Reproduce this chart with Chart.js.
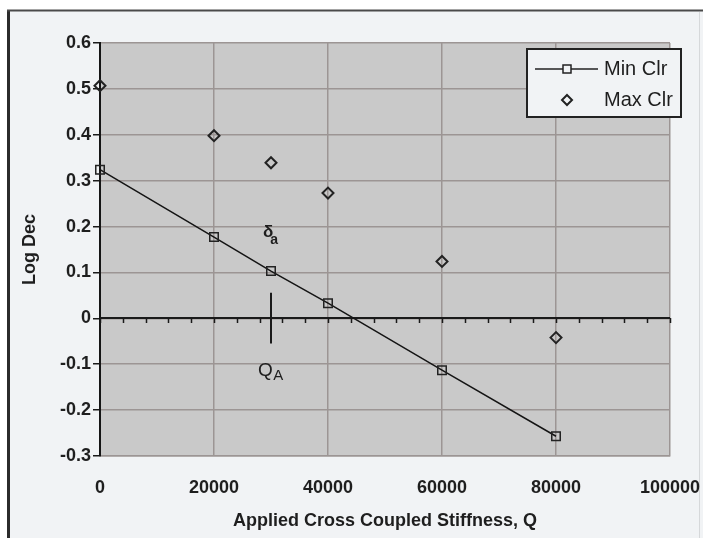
<!DOCTYPE html>
<html>
<head>
<meta charset="utf-8">
<script src="https://cdn.jsdelivr.net/npm/chart.js@4/dist/chart.umd.min.js"></script>
<style>
    html, body { margin: 0; padding: 0; background: #ffffff; }
    canvas { display: block; }
</style>
</head>
<body>
<canvas id="chart" width="703" height="538"></canvas>
<script>
// applied cross coupled stiffness, Q
const stiffness = [0, 20000, 30000, 40000, 60000, 80000];
// log dec values
const min_clr = [0.324, 0.177, 0.103, 0.033, -0.113, -0.257];
const max_clr = [0.507, 0.398, 0.339, 0.273, 0.124, -0.042];

// axis ticks
const x_ticks = [0, 20000, 40000, 60000, 80000, 100000];
const y_ticks = [0.6, 0.5, 0.4, 0.3, 0.2, 0.1, 0, -0.1, -0.2, -0.3];
const y_tick_labels = ["0.6", "0.5", "0.4", "0.3", "0.2", "0.1", "0", "-0.1", "-0.2", "-0.3"];
// small ticks along the zero line
const zero_line_step = 4000;

// annotations
const q_a = 30000;
const q_a_marker = [0.056, -0.055];
const delta_label = { x: 29500, y: 0.188 };
const q_label = { x: 29000, y: -0.115 };

const font_family = "'Liberation Sans', Arial, sans-serif";
const grid_color = "#9c9594";

// page background and frame
const frame_plugin = {
    id: "frame",
    beforeDraw(chart) {
        const c = chart.ctx;
        c.save();
        c.fillStyle = "#ffffff";
        c.fillRect(0, 0, chart.width, chart.height);
        c.fillStyle = "#f1f3f5";
        c.fillRect(8, 11, chart.width - 8, chart.height - 11);
        // plot area fill
        const a = chart.chartArea;
        c.fillStyle = "#c9c9c9";
        c.fillRect(a.left, a.top, a.right - a.left, a.bottom - a.top);
        // frame lines
        c.strokeStyle = "#2b2b2b";
        c.lineWidth = 3;
        c.beginPath();
        c.moveTo(8.5, 10);
        c.lineTo(8.5, chart.height);
        c.stroke();
        c.strokeStyle = "#4a4a4a";
        c.lineWidth = 2;
        c.beginPath();
        c.moveTo(7, 10.5);
        c.lineTo(chart.width, 10.5);
        c.stroke();
        c.strokeStyle = "#d6d8da";
        c.lineWidth = 1;
        c.beginPath();
        c.moveTo(699.5, 12);
        c.lineTo(699.5, chart.height);
        c.stroke();
        c.restore();
    },
    beforeDatasetsDraw(chart) {
        // zero line with small ticks, and the Q_A marker
        const c = chart.ctx;
        const xs = chart.scales.x;
        const ys = chart.scales.y;
        const y0 = Math.round(ys.getPixelForValue(0));
        c.save();
        c.strokeStyle = "#1a1a1a";
        c.lineWidth = 2;
        c.beginPath();
        c.moveTo(xs.left, y0);
        c.lineTo(xs.right, y0);
        c.stroke();
        c.lineWidth = 1.5;
        for (let v = 0; v <= xs.max; v += zero_line_step) {
            const px = Math.round(xs.getPixelForValue(v)) + 0.5;
            c.beginPath();
            c.moveTo(px, y0);
            c.lineTo(px, y0 + 5);
            c.stroke();
        }
        c.lineWidth = 2;
        const qx = Math.round(xs.getPixelForValue(q_a));
        c.beginPath();
        c.moveTo(qx, ys.getPixelForValue(q_a_marker[0]));
        c.lineTo(qx, ys.getPixelForValue(q_a_marker[1]));
        c.stroke();
        c.restore();
    },
    afterDraw(chart) {
        const c = chart.ctx;
        const xs = chart.scales.x;
        const ys = chart.scales.y;
        c.save();
        c.fillStyle = "#1e1e1e";
        c.textBaseline = "middle";
        c.textAlign = "center";
        // delta_a
        let px = xs.getPixelForValue(delta_label.x);
        let py = ys.getPixelForValue(delta_label.y);
        c.font = "bold 17px " + font_family;
        c.fillText("δ", px, py);
        c.font = "bold 14px " + font_family;
        c.fillText("a", px + 6, py + 8);
        // Q_A
        px = xs.getPixelForValue(q_label.x);
        py = ys.getPixelForValue(q_label.y);
        c.font = "19px " + font_family;
        c.fillText("Q", px, py);
        c.font = "15px " + font_family;
        c.fillText("A", px + 13, py + 5);

        // legend box
        c.fillStyle = "#f1f3f5";
        c.fillRect(527, 49, 154, 68);
        c.strokeStyle = "#222";
        c.lineWidth = 2;
        c.strokeRect(527, 49, 154, 68);
        c.lineWidth = 1.5;
        c.beginPath();
        c.moveTo(535, 69);
        c.lineTo(598, 69);
        c.stroke();
        c.fillStyle = "#f1f3f5";
        c.fillRect(563, 65, 8, 8);
        c.strokeRect(563, 65, 8, 8);
        c.beginPath();
        c.moveTo(567, 95);
        c.lineTo(572, 100);
        c.lineTo(567, 105);
        c.lineTo(562, 100);
        c.closePath();
        c.lineWidth = 2;
        c.stroke();
        c.fillStyle = "#1e1e1e";
        c.textAlign = "left";
        c.font = "20px " + font_family;
        c.fillText(chart.data.datasets[0].label, 604, 69);
        c.fillText(chart.data.datasets[1].label, 604, 100);
        c.restore();
    }
};

function is_major(v) {
    return y_ticks.findIndex(t => Math.abs(t - v) < 1e-6);
}

window.ctx = document.getElementById("chart");
window.chart = new Chart(ctx, {
    type: "scatter",
    data: {
        datasets: [{
            label: "Min Clr",
            data: stiffness.map((x, i) => ({ x, y: min_clr[i] })),
            showLine: true,
            borderColor: "#141414",
            borderWidth: 1.5,
            pointStyle: "rect",
            pointRadius: 6,
            pointBorderWidth: 1.5,
            pointBorderColor: "#222",
            pointBackgroundColor: "rgba(0,0,0,0)",
            clip: false
        }, {
            label: "Max Clr",
            data: stiffness.map((x, i) => ({ x, y: max_clr[i] })),
            showLine: false,
            pointStyle: "rectRot",
            pointRadius: 5.5,
            pointBorderWidth: 2,
            pointBorderColor: "#222",
            pointBackgroundColor: "rgba(0,0,0,0)",
            clip: false
        }]
    },
    options: {
        responsive: false,
        animation: false,
        events: [],
        layout: { padding: { left: 0, top: 43, right: 33, bottom: 0 } },
        plugins: { legend: { display: false }, tooltip: { enabled: false } },
        scales: {
            x: {
                type: "linear",
                min: 0,
                max: 100000,
                afterBuildTicks: scale => { scale.ticks = x_ticks.map(v => ({ value: v })); },
                afterFit: scale => {
                    scale.height = 82;
                    scale.paddingLeft = 0;
                    scale.paddingRight = 0;
                },
                grid: { color: grid_color, lineWidth: 1.5, drawTicks: false },
                border: { display: true, color: grid_color, width: 1.5 },
                ticks: {
                    padding: 21,
                    color: "#1e1e1e",
                    font: { family: font_family, size: 18, weight: "bold" },
                    maxRotation: 0,
                    callback: v => String(v)
                },
                title: {
                    display: true,
                    text: "Applied Cross Coupled Stiffness, Q",
                    color: "#1e1e1e",
                    font: { family: font_family, size: 18, weight: "bold" },
                    padding: { top: 8, bottom: 6 }
                }
            },
            y: {
                type: "linear",
                min: -0.3,
                max: 0.6,
                afterBuildTicks: scale => {
                    const ticks = [];
                    for (let k = -30; k <= 60; k += 5) ticks.push({ value: k / 100 });
                    scale.ticks = ticks;
                },
                afterFit: scale => {
                    scale.width = 100;
                    scale.paddingTop = 0;
                    scale.paddingBottom = 0;
                },
                grid: {
                    color: c => is_major(c.tick.value) >= 0 ? grid_color : "rgba(0,0,0,0)",
                    tickColor: "#1a1a1a",
                    lineWidth: 1.5,
                    tickLength: 7,
                    tickWidth: 1.5
                },
                border: { display: true, color: "#151515", width: 2 },
                ticks: {
                    padding: 2,
                    color: "#1e1e1e",
                    font: { family: font_family, size: 18, weight: "bold" },
                    callback: v => {
                        const i = is_major(v);
                        return i >= 0 ? y_tick_labels[i] : "";
                    }
                },
                title: {
                    display: true,
                    text: "Log Dec",
                    color: "#1e1e1e",
                    font: { family: font_family, size: 18, weight: "bold" },
                    padding: { top: 19, bottom: 0 }
                }
            }
        }
    },
    plugins: [frame_plugin]
});
</script>
</body>
</html>
